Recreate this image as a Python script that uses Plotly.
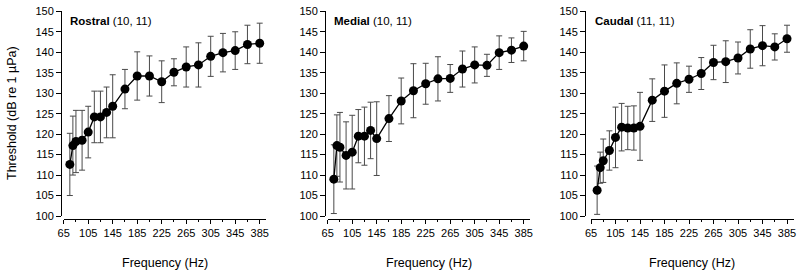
import plotly.graph_objects as go

# ---------------- data ----------------
freq = [75, 80, 85, 95, 105, 115, 125, 135, 145, 165, 185, 205, 225, 245,
        265, 285, 305, 325, 345, 365, 385]

rostral_mean = [112.6, 117.2, 118.2, 118.5, 120.5, 124.2, 124.2, 125.3, 126.8, 131.0, 134.2,
                134.2, 132.8, 135.1, 136.4, 136.9, 139.0, 139.9, 140.4, 141.9, 142.2]
rostral_sd = [7.6, 7.2, 7.6, 7.3, 6.3, 6.3, 6.3, 6.2, 7.7, 4.8, 5.9,
              4.9, 5.1, 3.3, 4.9, 5.4, 4.9, 4.7, 4.6, 4.7, 4.9]

medial_mean = [109.0, 117.2, 116.8, 114.8, 115.6, 119.5, 119.5, 120.9, 118.9, 123.8, 128.1,
               130.6, 132.3, 133.5, 133.6, 135.9, 136.9, 136.8, 139.9, 140.5, 141.5]
medial_sd = [8.4, 7.5, 8.5, 8.2, 9.0, 6.5, 7.1, 6.9, 9.0, 5.6, 5.6,
             6.6, 5.0, 5.4, 3.4, 4.4, 4.4, 2.7, 4.1, 3.0, 3.6]

caudal_mean = [106.3, 111.8, 113.5, 116.0, 119.2, 121.7, 121.5, 121.5, 121.9, 128.3, 130.5,
               132.4, 133.4, 134.8, 137.5, 137.7, 138.6, 140.8, 141.6, 141.3, 143.3]
caudal_sd = [5.9, 3.8, 5.3, 4.8, 7.4, 5.8, 5.3, 5.4, 8.3, 5.2, 6.4,
             5.0, 3.2, 3.9, 4.2, 5.1, 3.9, 4.7, 4.9, 3.2, 3.3]

panel_names = ["Rostral", "Medial", "Caudal"]
panel_counts = ["(10, 11)", "(10, 11)", "(11, 11)"]
x_tickvals = [65, 105, 145, 185, 225, 265, 305, 345, 385]
y_tickvals = [100, 105, 110, 115, 120, 125, 130, 135, 140, 145, 150]

x_title = "Frequency (Hz)"
y_title = "Threshold (dB re 1 µPa)"

# ---------------- layout geometry (pixels) ----------------
W, H = 800, 276
FONT = "Arial, Liberation Sans, sans-serif"
XR = [65, 396]
YR = [100, 150]
px_per_hz = 0.6125
x_starts = [63.7, 327.7, 591.0]      # pixel position of 65 Hz
yaxis_px = [61.0, 325.0, 585.0]      # pixel position of y axis line
label_px = [68.3, 331.7, 593.3]
y_top_px, y_bot_px = 11.3, 216.0
xaxis_line_py = 219.0


def px(x):
    return x / W


def py(y):
    return 1 - y / H


means = [rostral_mean, medial_mean, caudal_mean]
sds = [rostral_sd, medial_sd, caudal_sd]

fig = go.Figure()
layout = dict(
    width=W, height=H,
    margin=dict(l=0, r=0, t=0, b=0),
    paper_bgcolor="white", plot_bgcolor="white",
    showlegend=False,
    font=dict(family=FONT, size=11, color="black"),
    annotations=[],
)

for i in range(3):
    xa = "x" if i == 0 else f"x{i+1}"
    ya = "y" if i == 0 else f"y{i+1}"
    fig.add_trace(go.Scatter(
        x=freq, y=means[i], xaxis=xa, yaxis=ya,
        mode="lines+markers",
        line=dict(color="black", width=1.3),
        marker=dict(color="black", size=9),
        error_y=dict(type="data", array=sds[i], visible=True,
                     color="#4a4a4a", thickness=1, width=3),
    ))
    x0 = x_starts[i]
    x1 = x0 + (XR[1] - XR[0]) * px_per_hz
    xkey = "xaxis" if i == 0 else f"xaxis{i+1}"
    ykey = "yaxis" if i == 0 else f"yaxis{i+1}"
    layout[xkey] = dict(
        domain=[px(x0), px(x1)], range=XR,
        anchor="free", position=py(xaxis_line_py),
        showline=True, linecolor="black", linewidth=1,
        showgrid=False, zeroline=False,
        tickmode="array", tickvals=x_tickvals,
        ticks="outside", ticklen=4, tickwidth=1, tickcolor="black",
        minor=dict(tickmode="linear", tick0=65, dtick=20, ticks="outside",
                   ticklen=2, tickwidth=1, tickcolor="black", showgrid=False),
        tickfont=dict(family=FONT, size=11, color="black"),
        automargin=False, fixedrange=True,
    )
    layout[ykey] = dict(
        domain=[py(y_bot_px), py(y_top_px)], range=YR,
        anchor="free", position=px(yaxis_px[i]),
        showline=True, linecolor="black", linewidth=1,
        showgrid=False, zeroline=False,
        tickmode="array", tickvals=y_tickvals,
        ticks="outside", ticklen=5, tickwidth=1, tickcolor="black",
        tickfont=dict(family=FONT, size=11, color="black"),
        automargin=False, fixedrange=True,
    )
    # panel label
    layout["annotations"].append(dict(
        xref="paper", yref="paper", x=px(label_px[i]), y=py(21),
        xanchor="left", yanchor="middle", showarrow=False,
        text=f"<b>{panel_names[i]}</b> {panel_counts[i]}",
        font=dict(family=FONT, size=11.5, color="black"),
    ))
    # x title
    layout["annotations"].append(dict(
        xref="paper", yref="paper", x=px((x0 + x1) / 2), y=py(262.5),
        xanchor="center", yanchor="middle", showarrow=False,
        text=x_title, font=dict(family=FONT, size=12.5, color="black"),
    ))

layout["annotations"].append(dict(
    xref="paper", yref="paper", x=px(12), y=py(113),
    xanchor="center", yanchor="middle", showarrow=False, textangle=-90,
    text=y_title, font=dict(family=FONT, size=12.5, color="black"),
))

fig.update_layout(**layout)
fig.write_html(
    "out.html",
    config={"displayModeBar": False},
    post_script="document.body.style.margin='0';document.body.style.overflow='hidden';",
)
